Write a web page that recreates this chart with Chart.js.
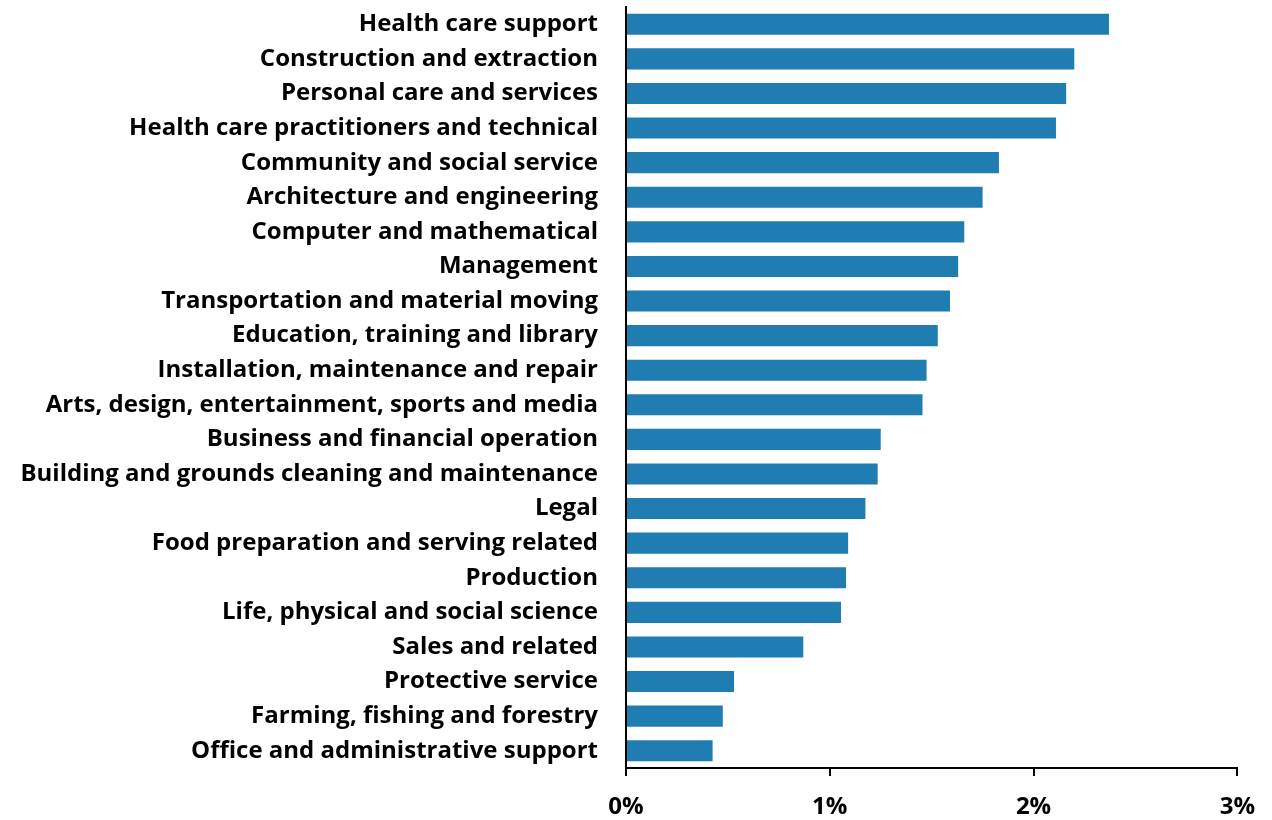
<!DOCTYPE html>
<html>
<head>
<meta charset="utf-8">
<script src="https://cdn.jsdelivr.net/npm/chart.js@4/dist/chart.umd.min.js"></script>
<style>
  html, body { margin: 0; padding: 0; background: #fff; }
  #wrap { width: 1272px; height: 820px; }
</style>
</head>
<body>
<div id="wrap"><canvas id="myChart" width="1272" height="820"></canvas></div>
<script>
const occupations = [
  "Health care support",
  "Construction and extraction",
  "Personal care and services",
  "Health care practitioners and technical",
  "Community and social service",
  "Architecture and engineering",
  "Computer and mathematical",
  "Management",
  "Transportation and material moving",
  "Education, training and library",
  "Installation, maintenance and repair",
  "Arts, design, entertainment, sports and media",
  "Business and financial operation",
  "Building and grounds cleaning and maintenance",
  "Legal",
  "Food preparation and serving related",
  "Production",
  "Life, physical and social science",
  "Sales and related",
  "Protective service",
  "Farming, fishing and forestry",
  "Office and administrative support",
];

// percent values
const shares = [
  2.37, 2.20, 2.16, 2.11, 1.83, 1.75, 1.66, 1.63, 1.59, 1.53, 1.475,
  1.455, 1.25, 1.235, 1.175, 1.09, 1.08, 1.055, 0.87, 0.53, 0.475, 0.425,
];

const xTicks = [0, 1, 2, 3];

const labelFont = { family: "'Open Sans', 'Noto Sans', sans-serif", size: 24, weight: "bold" };

const config = {
  type: "bar",
  data: {
    labels: occupations,
    datasets: [
      {
        data: shares,
        backgroundColor: "#1f7db2",
        borderWidth: 0,
        categoryPercentage: 1,
        barPercentage: 0.61,
      },
    ],
  },
  options: {
    indexAxis: "y",
    responsive: false,
    animation: false,
    layout: { padding: { top: 7, right: 28, bottom: 0, left: 0 } },
    plugins: { legend: { display: false }, tooltip: { enabled: false } },
    scales: {
      x: {
        min: 0,
        max: 3,
        afterBuildTicks: (axis) => {
          axis.ticks = xTicks.map((v) => ({ value: v }));
        },
        afterFit: (scale) => {
          scale.height = 52;
        },
        grid: {
          drawOnChartArea: false,
          drawTicks: true,
          tickLength: 8,
          color: "#000",
          lineWidth: 2,
        },
        border: { display: true, color: "#000", width: 2 },
        ticks: {
          color: "#000",
          font: labelFont,
          padding: 17,
          maxRotation: 0,
          callback: (v) => v + "%",
        },
      },
      y: {
        afterFit: (scale) => {
          // keep the axis at a fixed spot and drop the label half-height padding
          scale.width = 626;
          scale.paddingTop = 0;
          scale.paddingBottom = 0;
        },
        grid: { display: false, drawTicks: false },
        border: { display: true, color: "#000", width: 2 },
        ticks: {
          color: "#000",
          font: labelFont,
          padding: 28,
          autoSkip: false,
        },
      },
    },
  },
};

var myChart = new Chart(document.getElementById("myChart"), config);
</script>
</body>
</html>
